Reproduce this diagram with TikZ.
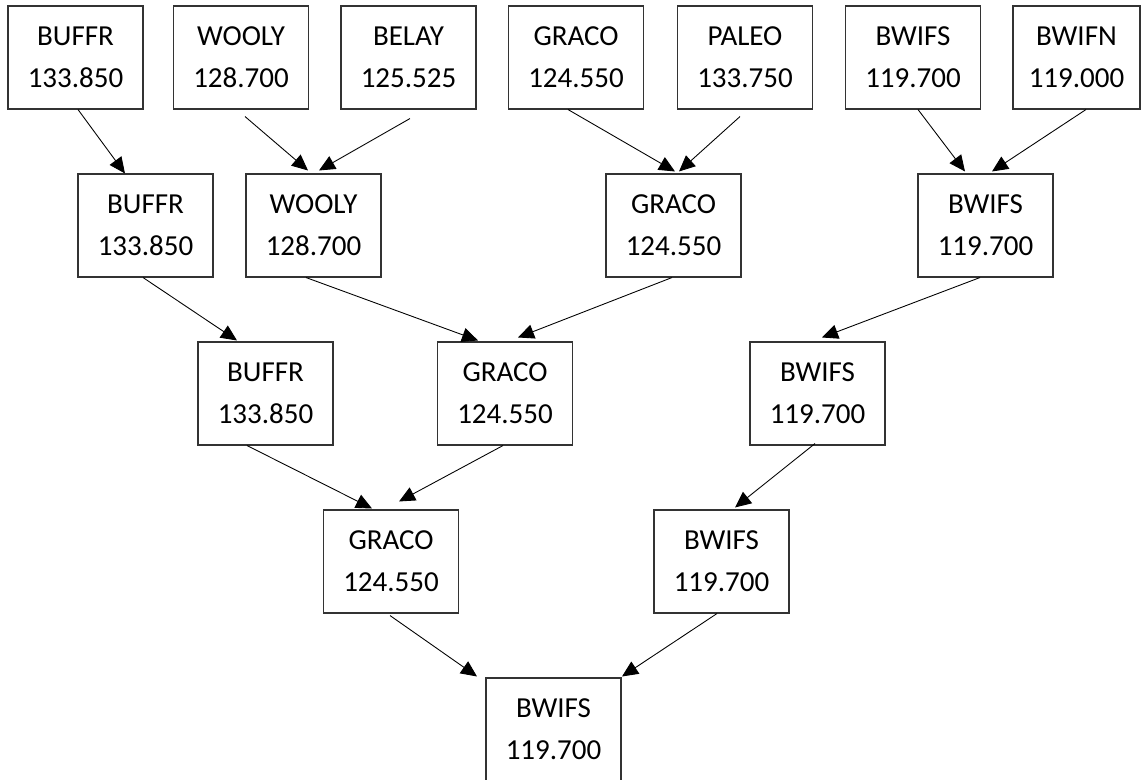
\documentclass[tikz,border=0pt]{standalone}
\usepackage{fontspec}
\setmainfont{Carlito}
\usepackage{tikz}
\usetikzlibrary{arrows.meta, positioning}
\tikzset{
  box/.style={rectangle, draw=black!80, line width=0.6pt, align=center, font=\fontsize{16.5}{24}\selectfont, inner sep=0pt, minimum width=2.7cm, minimum height=2.06cm},
  arr/.style={-{Triangle[length=0.32cm, width=0.29cm]}, line width=0.5pt, draw=black},
}

\begin{document}
\begin{tikzpicture}
  \useasboundingbox (0,0) rectangle (22.84,-15.58);
  % round 1
  \node[box] (b1) at (1.51,-1.15) {BUFFR\\133.850};
  \node[box] (w1) at (4.82,-1.15) {WOOLY\\128.700};
  \node[box] (e1) at (8.17,-1.15) {BELAY\\125.525};
  \node[box] (g1) at (11.52,-1.15) {GRACO\\124.550};
  \node[box] (p1) at (14.90,-1.15) {PALEO\\133.750};
  \node[box] (s1) at (18.26,-1.15) {BWIFS\\119.700};
  \node[box, minimum width=2.54cm] (n1) at (21.53,-1.15) {BWIFN\\119.000};
  % round 2
  \node[box] (b2) at (2.91,-4.51) {BUFFR\\133.850};
  \node[box] (w2) at (6.27,-4.51) {WOOLY\\128.700};
  \node[box] (g2) at (13.47,-4.51) {GRACO\\124.550};
  \node[box] (s2) at (19.71,-4.51) {BWIFS\\119.700};
  % round 3
  \node[box] (b3) at (5.31,-7.87) {BUFFR\\133.850};
  \node[box] (g3) at (10.10,-7.87) {GRACO\\124.550};
  \node[box] (s3) at (16.35,-7.87) {BWIFS\\119.700};
  % round 4
  \node[box] (g4) at (7.82,-11.23) {GRACO\\124.550};
  \node[box] (s4) at (14.43,-11.23) {BWIFS\\119.700};
  % final
  \node[box] (s5) at (11.07,-14.59) {BWIFS\\119.700};

  \draw[arr] ([xshift=0.05cm]b1.south) -- ([xshift=-0.41cm]b2.north);
  \draw[arr] ([xshift=0.08cm, yshift=-0.14cm]w1.south) -- ([xshift=-0.11cm, yshift=0.06cm]w2.north);
  \draw[arr] ([xshift=0.03cm, yshift=-0.18cm]e1.south) -- ([xshift=0.11cm, yshift=0.06cm]w2.north);
  \draw[arr] ([xshift=-0.16cm]g1.south) -- ([xshift=0.03cm, yshift=0.04cm]g2.north);
  \draw[arr] ([xshift=-0.1cm, yshift=-0.14cm]p1.south) -- ([xshift=0.11cm, yshift=0.04cm]g2.north);
  \draw[arr] ([xshift=0.1cm]s1.south) -- ([xshift=-0.41cm, yshift=0.04cm]s2.north);
  \draw[arr] ([xshift=0.19cm]n1.south) -- ([xshift=0.13cm, yshift=0.04cm]s2.north);

  \draw[arr] ([xshift=-0.05cm]b2.south) -- ([xshift=-0.57cm, yshift=0.02cm]b3.north);
  \draw[arr] ([xshift=-0.15cm]w2.south) -- ([xshift=-0.54cm, yshift=0.02cm]g3.north);
  \draw[arr] ([xshift=-0.03cm]g2.south) -- ([xshift=0.26cm, yshift=0.08cm]g3.north);
  \draw[arr] ([xshift=-0.11cm]s2.south) -- ([xshift=0.09cm, yshift=0.08cm]s3.north);

  \draw[arr] ([xshift=-0.37cm]b3.south) -- ([xshift=-0.38cm, yshift=0.02cm]g4.north);
  \draw[arr] ([xshift=-0.04cm]g3.south) -- ([xshift=0.16cm, yshift=0.16cm]g4.north);
  \draw[arr] ([xshift=-0.05cm, yshift=0.04cm]s3.south) -- ([xshift=0.27cm, yshift=0.04cm]s4.north);

  \draw[arr] ([xshift=-0.02cm, yshift=-0.04cm]g4.south) -- ([xshift=-1.53cm, yshift=0.02cm]s5.north);
  \draw[arr] ([xshift=-0.09cm]s4.south) -- ([xshift=1.37cm, yshift=0.02cm]s5.north);
\end{tikzpicture}
\end{document}
